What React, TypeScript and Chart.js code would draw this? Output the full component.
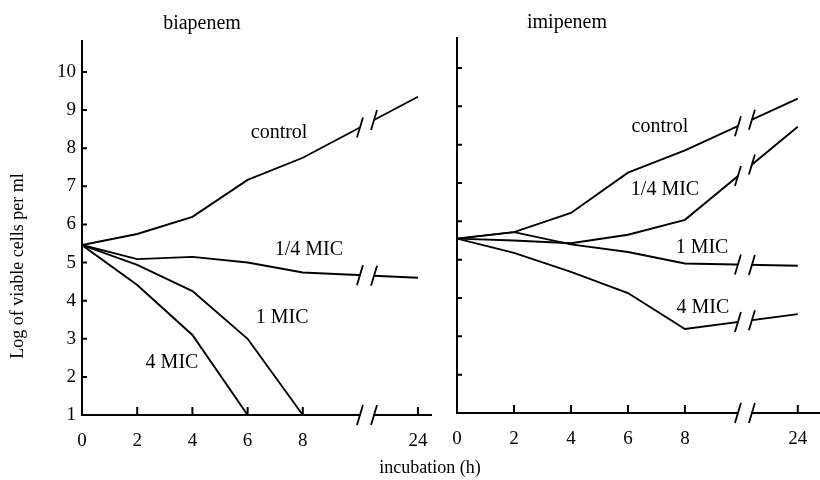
import React, { useEffect, useRef } from 'react';
import { Chart, registerables } from 'chart.js';

Chart.register(...registerables);

// ---- data ----
const hours = [0, 2, 4, 6, 8, 24];
const xTickLabels = ['0', '2', '4', '6', '8', '24'];
const yTickValues = [1, 2, 3, 4, 5, 6, 7, 8, 9, 10];
const seriesNames = ['control', '1/4 MIC', '1 MIC', '4 MIC'];

const biaControl = [5.46, 5.75, 6.2, 7.17, 7.75, 9.35];
const biaQuarterMIC = [5.46, 5.09, 5.15, 5.0, 4.74, 4.6];
const biaOneMIC = [5.46, 4.94, 4.25, 3.0, 1.0];
const biaFourMIC = [5.46, 4.41, 3.1, 1.0];

const imiControl = [5.55, 5.72, 6.22, 7.27, 7.85, 9.2];
const imiQuarterMIC = [5.55, 5.5, 5.43, 5.65, 6.04, 8.47];
const imiOneMIC = [5.55, 5.72, 5.4, 5.2, 4.9, 4.84];
const imiFourMIC = [5.55, 5.18, 4.68, 4.13, 3.19, 3.58];

const FONT = '"Liberation Serif", "Times New Roman", serif';

// ---- layout per panel ----
const leftPanel = {
  title: 'biapenem',
  titleX: 202,
  titleY: 29,
  pos24: 12.17,
  breakA: 10.07,
  breakB: 10.58,
  xMax: 12.68,
  yMax: 10.84,
  padTop: 40,
  padRight: 8,
  yAxisWidth: 82,
  xAxisHeight: 65,
  showYLabels: true,
  yTitle: 'Log of viable cells per ml',
  labelPos: [
    [7.14, 8.4],
    [8.22, 5.33],
    [7.25, 3.55],
    [3.26, 2.36],
  ],
};

const rightPanel = {
  title: 'imipenem',
  titleX: 127,
  titleY: 28,
  pos24: 11.96,
  breakA: 9.86,
  breakB: 10.35,
  xMax: 12.74,
  yMax: 10.81,
  padTop: 37,
  padRight: 0,
  yAxisWidth: 17,
  xAxisHeight: 67,
  showYLabels: false,
  yTitle: '',
  labelPos: [
    [7.12, 8.47],
    [7.3, 6.82],
    [8.6, 5.31],
    [8.63, 3.74],
  ],
};

function toPoints(values: number[], pos24: number) {
  return values.map((v, i) => ({ x: hours[i] <= 10 ? hours[i] : pos24, y: v }));
}

function makeDecorPlugin(p: any) {
  return {
    id: 'panelDecor',
    afterDatasetsDraw(chart: any) {
      const { ctx, chartArea, scales } = chart;
      const { left, right, top, bottom } = chartArea;
      const xs = scales.x;
      const ys = scales.y;
      const xA = xs.getPixelForValue(p.breakA);
      const xB = xs.getPixelForValue(p.breakB);
      ctx.save();
      // gap of the broken axis
      ctx.fillStyle = '#fff';
      ctx.fillRect(xA, top - 4, xB - xA, bottom - top + 8);

      ctx.strokeStyle = '#000';
      ctx.lineWidth = 2;
      ctx.lineCap = 'butt';
      ctx.beginPath();
      ctx.moveTo(left, top);
      ctx.lineTo(left, bottom + 1);
      ctx.moveTo(left - 1, bottom);
      ctx.lineTo(xA, bottom);
      ctx.moveTo(xB, bottom);
      ctx.lineTo(right, bottom);
      // y ticks (inward)
      yTickValues.forEach((v) => {
        if (v === 1) return;
        const py = ys.getPixelForValue(v);
        ctx.moveTo(left, py);
        ctx.lineTo(left + 5, py);
      });
      // x ticks (upward)
      const xTickPos = hours.map((h) => (h <= 10 ? h : p.pos24));
      xTickPos.forEach((v, i) => {
        if (i === 0) return;
        const px = xs.getPixelForValue(v);
        ctx.moveTo(px, bottom);
        ctx.lineTo(px, bottom - 8);
      });
      ctx.stroke();

      // break slashes
      ctx.beginPath();
      const slash = (px: number, py: number) => {
        ctx.moveTo(px - 3, py + 10);
        ctx.lineTo(px + 3, py - 10);
      };
      slash(xA, bottom);
      slash(xB, bottom);
      chart.data.datasets.forEach((ds: any) => {
        const d = ds.data;
        for (let i = 0; i < d.length - 1; i++) {
          if (d[i].x <= p.breakA && d[i + 1].x >= p.breakB) {
            const f = (xv: number) => d[i].y + ((d[i + 1].y - d[i].y) * (xv - d[i].x)) / (d[i + 1].x - d[i].x);
            slash(xA, ys.getPixelForValue(f(p.breakA)));
            slash(xB, ys.getPixelForValue(f(p.breakB)));
          }
        }
      });
      ctx.lineWidth = 1.8;
      ctx.stroke();

      // series labels
      ctx.fillStyle = '#000';
      ctx.font = `20px ${FONT}`;
      ctx.textAlign = 'center';
      ctx.textBaseline = 'middle';
      seriesNames.forEach((name, i) => {
        const lp = p.labelPos[i];
        ctx.fillText(name, xs.getPixelForValue(lp[0]), ys.getPixelForValue(lp[1]));
      });

      // panel title
      ctx.textBaseline = 'alphabetic';
      ctx.font = `20px ${FONT}`;
      ctx.fillText(p.title, p.titleX, p.titleY);

      // y-axis title
      if (p.yTitle) {
        ctx.save();
        ctx.translate(18, 266);
        ctx.rotate(-Math.PI / 2);
        ctx.font = `18px ${FONT}`;
        ctx.textBaseline = 'middle';
        ctx.fillText(p.yTitle, 0, 0);
        ctx.restore();
      }
      ctx.restore();
    },
  };
}

function makeConfig(p: any, series: number[][]) {
  return {
    type: 'line',
    data: {
      datasets: series.map((vals, i) => ({
        label: seriesNames[i],
        data: toPoints(vals, p.pos24),
        borderColor: '#000',
        borderWidth: 1.9,
        pointRadius: 0,
        tension: 0,
        fill: false,
      })),
    },
    options: {
      responsive: false,
      animation: false,
      devicePixelRatio: 1,
      layout: { padding: { top: p.padTop, right: p.padRight, left: 0, bottom: 0 } },
      plugins: { legend: { display: false }, title: { display: false }, tooltip: { enabled: false } },
      scales: {
        x: {
          type: 'linear',
          min: 0,
          max: p.xMax,
          grid: { display: false, drawTicks: false },
          border: { display: false },
          afterBuildTicks: (scale: any) => {
            scale.ticks = hours.map((h) => ({ value: h <= 10 ? h : p.pos24 }));
          },
          afterFit: (scale: any) => {
            scale.height = p.xAxisHeight;
            scale.paddingLeft = 0;
            scale.paddingRight = 0;
          },
          ticks: {
            autoSkip: false,
            maxRotation: 0,
            padding: 15,
            color: '#000',
            font: { family: FONT, size: 19 },
            callback: (_v: any, i: number) => xTickLabels[i],
          },
        },
        y: {
          type: 'linear',
          min: 1,
          max: p.yMax,
          grid: { display: false, drawTicks: false },
          border: { display: false },
          afterBuildTicks: (scale: any) => {
            scale.ticks = yTickValues.map((v) => ({ value: v }));
          },
          afterFit: (scale: any) => {
            scale.width = p.yAxisWidth;
            scale.paddingTop = 0;
            scale.paddingBottom = 0;
          },
          ticks: {
            display: p.showYLabels,
            padding: 6,
            color: '#000',
            font: { family: FONT, size: 19 },
            callback: (v: any) => String(v),
          },
        },
      },
    },
    plugins: [makeDecorPlugin(p)],
  };
}

export default function App() {
  const leftRef = useRef<HTMLCanvasElement | null>(null);
  const rightRef = useRef<HTMLCanvasElement | null>(null);

  useEffect(() => {
    const c1 = new Chart(leftRef.current as any, makeConfig(leftPanel, [biaControl, biaQuarterMIC, biaOneMIC, biaFourMIC]) as any);
    const c2 = new Chart(rightRef.current as any, makeConfig(rightPanel, [imiControl, imiQuarterMIC, imiOneMIC, imiFourMIC]) as any);
    return () => {
      c1.destroy();
      c2.destroy();
    };
  }, []);

  return (
    <div style={{ position: 'absolute', left: 0, top: 0, width: 820, height: 480, background: '#fff', overflow: 'hidden' }}>
      <canvas ref={leftRef} width={440} height={480} style={{ position: 'absolute', left: 0, top: 0, width: 440, height: 480 }} />
      <canvas ref={rightRef} width={380} height={480} style={{ position: 'absolute', left: 440, top: 0, width: 380, height: 480 }} />
      <div
        style={{
          position: 'absolute',
          left: 330,
          top: 456,
          width: 200,
          textAlign: 'center',
          fontFamily: FONT,
          fontSize: 18,
          lineHeight: '22px',
          color: '#000',
        }}
      >
        incubation (h)
      </div>
    </div>
  );
}
